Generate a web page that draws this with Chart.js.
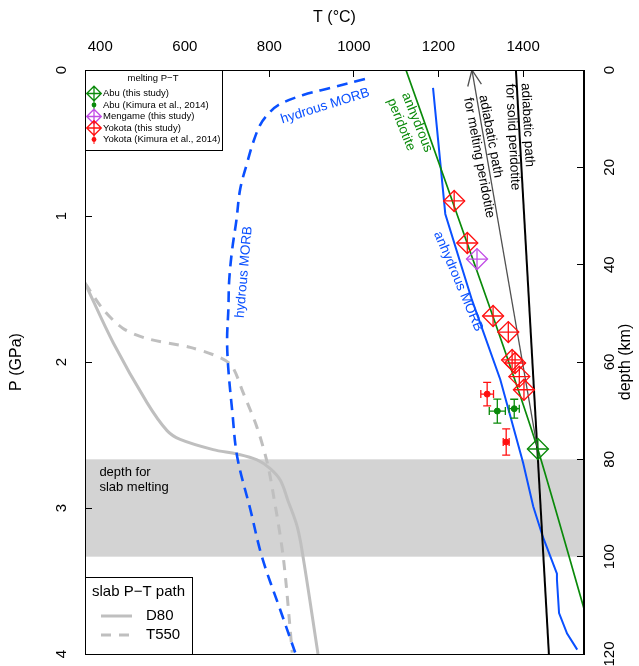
<!DOCTYPE html>
<html>
<head>
<meta charset="utf-8">
<script src="https://cdn.jsdelivr.net/npm/chart.js@4.4.0/dist/chart.umd.min.js"></script>
<style>
  html, body { margin: 0; padding: 0; background: #fff; }
  #wrap { width: 639px; height: 666px; position: relative; }
</style>
</head>
<body>
<div id="wrap"><canvas id="pt"></canvas></div>
<script>
// ---- values (T in °C, P in GPa) ----
const tempTicks = [400, 600, 800, 1000, 1200, 1400]
const pressureTicks = [0, 1, 2, 3, 4]
const depthTicks = [0, 20, 40, 60, 80, 100, 120]
const slabMeltDepth = [80, 100]   // km

// slab P-T paths
const d80T = [364, 431, 511, 558, 589, 667, 724, 771, 802, 826, 844, 866, 880, 915]
const d80P = [1.46, 1.87, 2.28, 2.47, 2.53, 2.60, 2.63, 2.67, 2.73, 2.81, 2.95, 3.13, 3.34, 4.0]
const t550T = [364, 407, 454, 511, 613, 684, 712, 738, 771, 795, 809, 833, 854]
const t550P = [1.46, 1.64, 1.77, 1.84, 1.90, 1.97, 2.03, 2.21, 2.45, 2.69, 2.90, 3.34, 3.99]

// solidi
const hydMorbT = [1026, 944, 880, 821, 795, 778, 762, 748, 731, 722, 712, 705, 703, 700, 703, 712, 724, 755, 783, 826, 861]
const hydMorbP = [0.062, 0.123, 0.171, 0.240, 0.308, 0.377, 0.493, 0.630, 0.815, 1.03, 1.23, 1.44, 1.64, 1.85, 2.05, 2.33, 2.65, 3.01, 3.34, 3.70, 3.99]
const anhMorbT = [1187, 1216, 1279, 1346, 1400, 1424, 1447, 1480, 1480, 1485, 1504, 1528]
const anhMorbP = [0.123, 0.986, 1.575, 2.12, 2.69, 2.99, 3.20, 3.45, 3.49, 3.72, 3.86, 3.97]
const anhPerT = [1123, 1329, 1435, 1550]
const anhPerP = [0, 1.69, 2.60, 3.75]

// adiabats
const solidAdT = [1383, 1461]
const solidAdP = [0, 4]
const meltAdT = [1279, 1433]
const meltAdP = [0, 2.58]

// melting P-T estimates
const yokotaT = [1237, 1268, 1329, 1365, 1374, 1381, 1391, 1402]
const yokotaP = [0.897, 1.185, 1.685, 1.795, 1.986, 2.007, 2.10, 2.19]
const mengameT = [1291]
const mengameP = [1.295]
const abuT = [1435]
const abuP = [2.596]
const kimYokotaT = [1315, 1360]
const kimYokotaP = [2.22, 2.548]
const kimYokotaTerr = [15, 7]
const kimYokotaPerr = [0.08, 0.09]
const kimAbuT = [1339, 1379]
const kimAbuP = [2.336, 2.32]
const kimAbuTerr = [19, 12]
const kimAbuPerr = [0.082, 0.065]

const BLUE = '#0a50ff'
const GREEN = '#0a8a0a'
const RED = '#ff1010'
const PURPLE = '#c24de6'
const SLAB = '#bfbfbf'

const pts = (T, P) => T.map((t, i) => ({ x: t, y: P[i] }))

function diamond(label, T, P, color) {
  const base = { data: pts(T, P), showLine: false, pointRadius: 10.5, pointBorderColor: color,
                 pointBackgroundColor: 'rgba(0,0,0,0)', pointBorderWidth: 1.3 }
  return [
    Object.assign({ label: label, pointStyle: 'rectRot' }, base),
    Object.assign({ label: label + ' +', pointStyle: 'cross' }, base)
  ]
}
function dots(label, T, P, color) {
  return { label: label, data: pts(T, P), showLine: false, pointStyle: 'circle', pointRadius: 3,
           pointBorderColor: color, pointBackgroundColor: color, pointBorderWidth: 1 }
}
function curve(label, T, P, color, width, dash, tension) {
  return { label: label, data: pts(T, P), showLine: true, pointRadius: 0, borderColor: color,
           borderWidth: width, borderDash: dash || [], tension: tension || 0, fill: false }
}

// first in list is drawn on top
const datasets = [
  ...diamond('Yokota (this study)', yokotaT, yokotaP, RED),
  ...diamond('Mengame (this study)', mengameT, mengameP, PURPLE),
  ...diamond('Abu (this study)', abuT, abuP, GREEN),
  dots('Yokota (Kimura et al., 2014)', kimYokotaT, kimYokotaP, RED),
  dots('Abu (Kimura et al., 2014)', kimAbuT, kimAbuP, GREEN),
  curve('adiabatic path for melting peridotite', meltAdT, meltAdP, '#505050', 1.3),
  curve('adiabatic path for solid peridotite', solidAdT, solidAdP, '#000', 2),
  curve('anhydrous peridotite', anhPerT, anhPerP, GREEN, 1.7, null, 0.2),
  curve('anhydrous MORB', anhMorbT, anhMorbP, BLUE, 2),
  curve('hydrous MORB', hydMorbT, hydMorbP, BLUE, 2.6, [11, 7], 0.35),
  curve('D80', d80T, d80P, SLAB, 3, null, 0.35),
  curve('T550', t550T, t550P, SLAB, 3, [10, 8], 0.3)
]

// text placed on the plot (anchor in T/P, angle in degrees)
const notes = [
  { text: ['hydrous MORB'], T: 932, P: 0.247, rot: -17.4, color: BLUE, align: 'center', size: 13.5 },
  { text: ['hydrous MORB'], T: 740, P: 1.384, rot: -85, color: BLUE, align: 'center', size: 13.5 },
  { text: ['anhydrous', 'peridotite'], T: 1121, P: 0.158, rot: 68, color: GREEN, align: 'left', size: 13.5 },
  { text: ['adiabatic path', 'for melting peridotite'], T: 1305, P: 0.171, rot: 79.4, color: '#000', align: 'left', size: 13.5 },
  { text: ['adiabatic path', 'for solid peridotite'], T: 1405, P: 0.089, rot: 87, color: '#000', align: 'left', size: 13.5 },
  { text: ['anhydrous MORB'], T: 1197, P: 1.11, rot: 67, color: BLUE, align: 'left', size: 13.5 },
  { text: ['depth for', 'slab melting'], T: 398, P: 2.753, rot: 0, color: '#000', align: 'left', size: 13 }
]

const FONT = '"Liberation Sans", Arial, Helvetica, sans-serif'
Chart.defaults.font.family = FONT
Chart.defaults.color = '#000'

function drawDiamond(ctx, x, y, r, color) {
  ctx.save()
  ctx.strokeStyle = color
  ctx.lineWidth = 1.3
  ctx.beginPath()
  ctx.moveTo(x - r, y); ctx.lineTo(x, y - r); ctx.lineTo(x + r, y); ctx.lineTo(x, y + r); ctx.closePath()
  ctx.moveTo(x - r, y); ctx.lineTo(x + r, y)
  ctx.moveTo(x, y - r); ctx.lineTo(x, y + r)
  ctx.stroke()
  ctx.restore()
}

function errorBars(ctx, sx, sy, T, P, Te, Pe, color) {
  ctx.save()
  ctx.strokeStyle = color
  ctx.lineWidth = 1.3
  for (let i = 0; i < T.length; i++) {
    const x = sx.getPixelForValue(T[i]), y = sy.getPixelForValue(P[i])
    const xl = sx.getPixelForValue(T[i] - Te[i]), xr = sx.getPixelForValue(T[i] + Te[i])
    const yt = sy.getPixelForValue(P[i] - Pe[i]), yb = sy.getPixelForValue(P[i] + Pe[i])
    ctx.beginPath()
    ctx.moveTo(xl, y); ctx.lineTo(xr, y)
    ctx.moveTo(xl, y - 4); ctx.lineTo(xl, y + 4)
    ctx.moveTo(xr, y - 4); ctx.lineTo(xr, y + 4)
    ctx.moveTo(x, yt); ctx.lineTo(x, yb)
    ctx.moveTo(x - 4, yt); ctx.lineTo(x + 4, yt)
    ctx.moveTo(x - 4, yb); ctx.lineTo(x + 4, yb)
    ctx.stroke()
  }
  ctx.restore()
}

const extras = {
  id: 'extras',
  beforeDraw(chart) {
    const { ctx, chartArea: a, scales } = chart
    const y0 = scales.y2.getPixelForValue(slabMeltDepth[0])
    const y1 = scales.y2.getPixelForValue(slabMeltDepth[1])
    ctx.save()
    ctx.fillStyle = '#d3d3d3'
    ctx.fillRect(a.left, y0, a.right - a.left, y1 - y0)
    ctx.restore()
  },
  afterDatasetsDraw(chart) {
    const { ctx, chartArea: a, scales } = chart
    const sx = scales.x, sy = scales.y
    ctx.save()
    ctx.beginPath()
    ctx.rect(a.left, a.top, a.right - a.left, a.bottom - a.top)
    ctx.clip()

    errorBars(ctx, sx, sy, kimYokotaT, kimYokotaP, kimYokotaTerr, kimYokotaPerr, RED)
    errorBars(ctx, sx, sy, kimAbuT, kimAbuP, kimAbuTerr, kimAbuPerr, GREEN)

    // arrow head on the melting adiabat
    const x0 = sx.getPixelForValue(meltAdT[0]), y0 = sy.getPixelForValue(meltAdP[0])
    const x1 = sx.getPixelForValue(meltAdT[1]), y1 = sy.getPixelForValue(meltAdP[1])
    const ang = Math.atan2(y1 - y0, x1 - x0)
    ctx.strokeStyle = '#505050'
    ctx.lineWidth = 1.3
    ctx.beginPath()
    ctx.moveTo(x0 + 17 * Math.cos(ang - 0.42), y0 + 17 * Math.sin(ang - 0.42))
    ctx.lineTo(x0, y0)
    ctx.lineTo(x0 + 17 * Math.cos(ang + 0.42), y0 + 17 * Math.sin(ang + 0.42))
    ctx.stroke()

    notes.forEach(n => {
      ctx.save()
      ctx.translate(sx.getPixelForValue(n.T), sy.getPixelForValue(n.P))
      ctx.rotate(n.rot * Math.PI / 180)
      ctx.fillStyle = n.color
      ctx.font = n.size + 'px ' + FONT
      ctx.textAlign = n.align
      ctx.textBaseline = 'middle'
      n.text.forEach((s, i) => ctx.fillText(s, 0, i * 15.5))
      ctx.restore()
    })
    ctx.restore()
  },
  afterDraw(chart) {
    const { ctx, chartArea: a } = chart
    ctx.save()
    ctx.strokeStyle = '#000'
    ctx.lineWidth = 1
    ctx.strokeRect(a.left + 0.5, a.top + 0.5, a.right - a.left - 1, a.bottom - a.top)

    // legend: melting P-T
    const L = a.left, T0 = a.top
    ctx.fillStyle = '#fff'
    ctx.fillRect(L, T0, 137, 80)
    ctx.strokeRect(L + 0.5, T0 + 0.5, 137, 80)
    ctx.fillStyle = '#000'
    ctx.font = '9.5px ' + FONT
    ctx.textAlign = 'center'
    ctx.textBaseline = 'middle'
    ctx.fillText('melting P\u2212T', L + 68, T0 + 8)
    const rows = [
      ['Abu (this study)', GREEN, 'd'],
      ['Abu (Kimura et al., 2014)', GREEN, 'k'],
      ['Mengame (this study)', PURPLE, 'd'],
      ['Yokota (this study)', RED, 'd'],
      ['Yokota (Kimura et al., 2014)', RED, 'k']
    ]
    ctx.textAlign = 'left'
    rows.forEach((r, i) => {
      const y = T0 + 23.5 + i * 11.5, x = L + 9
      if (r[2] === 'd') drawDiamond(ctx, x, y, 7.3, r[1])
      else {
        ctx.fillStyle = r[1]; ctx.strokeStyle = r[1]
        ctx.beginPath(); ctx.arc(x, y, 2.4, 0, Math.PI * 2); ctx.fill()
        ctx.beginPath(); ctx.moveTo(x, y - 4.5); ctx.lineTo(x, y + 4.5); ctx.stroke()
        ctx.strokeStyle = '#000'
      }
      ctx.fillStyle = '#000'
      ctx.fillText(r[0], L + 18, y)
    })

    // legend: slab P-T path
    const B = a.bottom
    ctx.fillStyle = '#fff'
    ctx.fillRect(L, B - 77, 107, 77)
    ctx.strokeStyle = '#000'
    ctx.strokeRect(L + 0.5, B - 77 + 0.5, 107, 77)
    ctx.fillStyle = '#000'
    ctx.font = '15px ' + FONT
    ctx.textAlign = 'center'
    ctx.fillText('slab P\u2212T path', L + 53.5, B - 62)
    ctx.textAlign = 'left'
    ;[['D80', []], ['T550', [10, 8]]].forEach((r, i) => {
      const y = B - 38 + i * 19
      ctx.save()
      ctx.strokeStyle = SLAB; ctx.lineWidth = 3; ctx.setLineDash(r[1])
      ctx.beginPath(); ctx.moveTo(L + 16, y); ctx.lineTo(L + 47, y); ctx.stroke()
      ctx.restore()
      ctx.fillText(r[0], L + 61, y)
    })

    // right axis title, read bottom to top
    ctx.save()
    ctx.translate(626, (a.top + a.bottom) / 2)
    ctx.rotate(-Math.PI / 2)
    ctx.font = '16px ' + FONT
    ctx.textAlign = 'center'
    ctx.textBaseline = 'middle'
    ctx.fillText('depth (km)', 0, 0)
    ctx.restore()
    ctx.restore()
  }
}

const tickGrid = { drawOnChartArea: false, tickLength: -7, color: '#000', tickColor: '#000', tickWidth: 1 }

function fitV(width) {
  return s => { s.width = width; s.paddingTop = 0; s.paddingBottom = 0 }
}

new Chart(document.getElementById('pt'), {
  type: 'scatter',
  data: { datasets: datasets },
  options: {
    responsive: true,
    maintainAspectRatio: false,
    animation: false,
    layout: { padding: { left: 0, right: 0, top: 0, bottom: 12 } },
    plugins: { legend: { display: false }, tooltip: { enabled: false } },
    scales: {
      x: {
        type: 'linear', position: 'top', min: 364, max: 1544,
        afterBuildTicks: s => { s.ticks = tempTicks.map(v => ({ value: v })) },
        afterFit: s => { s.height = 70; s.paddingLeft = 0; s.paddingRight = 0 },
        grid: tickGrid,
        border: { color: '#000', width: 1 },
        ticks: { font: { size: 15 }, padding: 21, maxRotation: 0, autoSkip: false, callback: v => String(v) },
        title: { display: true, text: 'T (°C)', font: { size: 16 }, padding: { top: 8, bottom: 0 } }
      },
      y: {
        type: 'linear', position: 'left', min: 0, max: 4, reverse: true,
        afterBuildTicks: s => { s.ticks = pressureTicks.map(v => ({ value: v })) },
        afterFit: fitV(85),
        grid: tickGrid,
        border: { color: '#000', width: 1 },
        ticks: { font: { size: 15 }, padding: 26, minRotation: 90, maxRotation: 90, crossAlign: 'center',
                 autoSkip: false, callback: v => String(v) },
        title: { display: true, text: 'P (GPa)', font: { size: 16 }, padding: { top: 7, bottom: 0 } }
      },
      y2: {
        type: 'linear', position: 'right', min: 0, max: 120, reverse: true,
        afterBuildTicks: s => { s.ticks = depthTicks.map(v => ({ value: v })) },
        afterFit: fitV(55),
        grid: tickGrid,
        border: { color: '#000', width: 1 },
        ticks: { font: { size: 15 }, padding: 20.5, minRotation: 90, maxRotation: 90, crossAlign: 'center',
                 autoSkip: false, callback: v => String(v) },
        title: { display: false }
      }
    }
  },
  plugins: [extras]
})
</script>
</body>
</html>
